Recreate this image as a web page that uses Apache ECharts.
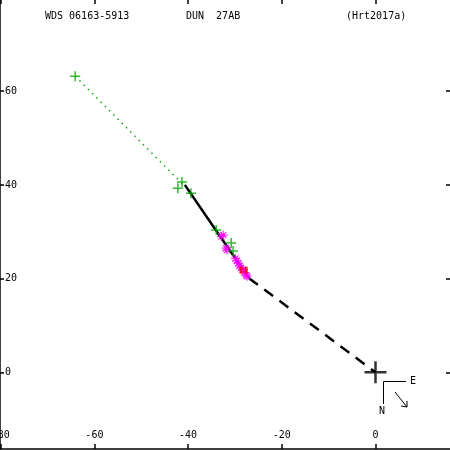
<!DOCTYPE html>
<html>
<head>
<meta charset="utf-8">
<script src="https://cdn.jsdelivr.net/npm/echarts@6/dist/echarts.min.js"></script>
<style>html,body{margin:0;padding:0;background:#fff}#c{width:450px;height:450px}</style>
</head>
<body>
<div id="c"></div>
<script>
// ---- data (arcsec-like offsets) ----
var xTicks = [-80, -60, -40, -20, 0];
var yTicks = [0, 20, 40, 60];
var titleLeft = 'WDS 06163-5913';
var titleMid = 'DUN  27AB';
var titleRight = '(Hrt2017a)';

var greenObs = [[-64.1, 63.2], [-41.3, 40.6], [-42.2, 39.3], [-39.4, 38.2], [-34.0, 30.4], [-30.8, 27.6], [-30.4, 25.9]];
var greenOC = [[-64.1, 63.2], [-40.9, 39.9]];
var magentaObs = [[-32.5, 29.3], [-32.9, 29.0], [-31.7, 26.1], [-31.9, 26.5], [-29.9, 24.3], [-29.6, 23.8], [-29.3, 23.3], [-29.0, 22.7], [-28.7, 22.3], [-28.3, 21.9], [-28.0, 21.3], [-27.6, 20.7], [-27.4, 20.5]];
var redObs = [[-28.7, 21.8], [-27.6, 21.8]];
var orbit = [[-40.7, 40.0], [-34.0, 30.2], [-27.0, 20.1]];
var apsides = [[-27.0, 20.1], [0, 0]];
var primary = [[0, 0]];

var chart = echarts.init(document.getElementById('c'), null, {renderer: 'canvas'});
var mono = 'DejaVu Sans Mono';
var xMin = -80.15, xMax = 15.9, yMin = -16.37, yMax = 79.47;
var plusPath = 'path://M0 5L10 5M5 0L5 10';
var starPath = 'path://M0 5L10 5M5 0L5 10M1.5 1.5L8.5 8.5M8.5 1.5L1.5 8.5';

chart.setOption({
  animation: false,
  backgroundColor: '#fff',
  grid: {left: 0, right: 0, top: 0, bottom: 1, containLabel: false, outerBoundsMode: 'none'},
  xAxis: [{
    type: 'value', position: 'bottom', min: xMin, max: xMax,
    axisLine: {show: true, onZero: false, lineStyle: {color: '#000', width: 1.5}},
    axisTick: {show: true, inside: true, length: 5, customValues: xTicks, lineStyle: {color: '#000', width: 1.5}},
    axisLabel: {show: true, inside: true, margin: 9, customValues: xTicks, color: '#000', fontFamily: mono, fontSize: 10},
    splitLine: {show: false}
  }, {
    type: 'value', position: 'top', min: xMin, max: xMax,
    axisLine: {show: false, onZero: false},
    axisTick: {show: true, inside: true, length: 4, customValues: xTicks, lineStyle: {color: '#000', width: 1.5}},
    axisLabel: {show: false},
    splitLine: {show: false}
  }],
  yAxis: [{
    type: 'value', position: 'left', min: yMin, max: yMax,
    axisLine: {show: true, onZero: false, lineStyle: {color: '#000', width: 1.5}},
    axisTick: {show: true, inside: true, length: 4, customValues: yTicks, lineStyle: {color: '#000', width: 1.5}},
    axisLabel: {show: true, inside: true, margin: 5, customValues: yTicks, color: '#000', fontFamily: mono, fontSize: 10},
    splitLine: {show: false}
  }, {
    type: 'value', position: 'right', min: yMin, max: yMax,
    axisLine: {show: false, onZero: false},
    axisTick: {show: true, inside: true, length: 4, customValues: yTicks, lineStyle: {color: '#000', width: 1.5}},
    axisLabel: {show: false},
    splitLine: {show: false}
  }],
  series: [
    {type: 'line', data: greenOC, symbol: 'none', lineStyle: {color: '#00a800', width: 1.5, type: [1.5, 4.5]}, z: 2},
    {type: 'line', data: orbit, symbol: 'none', lineStyle: {color: '#000', width: 2.5}, z: 3},
    {type: 'line', data: apsides, symbol: 'none', lineStyle: {color: '#000', width: 2.5, type: [11, 8]}, z: 3},
    {type: 'scatter', data: magentaObs, symbol: starPath, symbolSize: 9,
      itemStyle: {color: 'none', borderColor: '#ff00ff', borderWidth: 1.2}, z: 4},
    {type: 'scatter', data: greenObs, symbol: plusPath, symbolSize: 10,
      itemStyle: {color: 'none', borderColor: '#00a800', borderWidth: 1.5}, z: 5},
    {type: 'scatter', data: redObs, symbol: 'rect', symbolSize: [3, 7],
      itemStyle: {color: '#ff0000'}, z: 7},
    {type: 'scatter', data: primary, symbol: plusPath, symbolSize: 22,
      itemStyle: {color: 'none', borderColor: '#000', borderWidth: 2.5}, z: 6}
  ],
  graphic: [
    {type: 'text', x: 45, y: 16.5, style: {text: titleLeft, font: '10px "DejaVu Sans Mono"', fill: '#000', verticalAlign: 'middle'}},
    {type: 'text', x: 186, y: 16.5, style: {text: titleMid, font: '10px "DejaVu Sans Mono"', fill: '#000', verticalAlign: 'middle'}},
    {type: 'text', x: 346, y: 16.5, style: {text: titleRight, font: '10px "DejaVu Sans Mono"', fill: '#000', verticalAlign: 'middle'}},
    {type: 'polyline', shape: {points: [[406, 381.5], [383.5, 381.5], [383.5, 404]]}, style: {stroke: '#000', lineWidth: 1, fill: null}},
    {type: 'text', x: 410, y: 381, style: {text: 'E', font: '10px "DejaVu Sans Mono"', fill: '#000', verticalAlign: 'middle'}},
    {type: 'text', x: 379, y: 411, style: {text: 'N', font: '10px "DejaVu Sans Mono"', fill: '#000', verticalAlign: 'middle'}},
    {type: 'line', shape: {x1: 395, y1: 392, x2: 407, y2: 407}, style: {stroke: '#000', lineWidth: 1}},
    {type: 'polyline', shape: {points: [[401, 406], [407, 407], [407, 401]]}, style: {stroke: '#000', lineWidth: 1, fill: null}}
  ]
});
</script>
</body>
</html>
